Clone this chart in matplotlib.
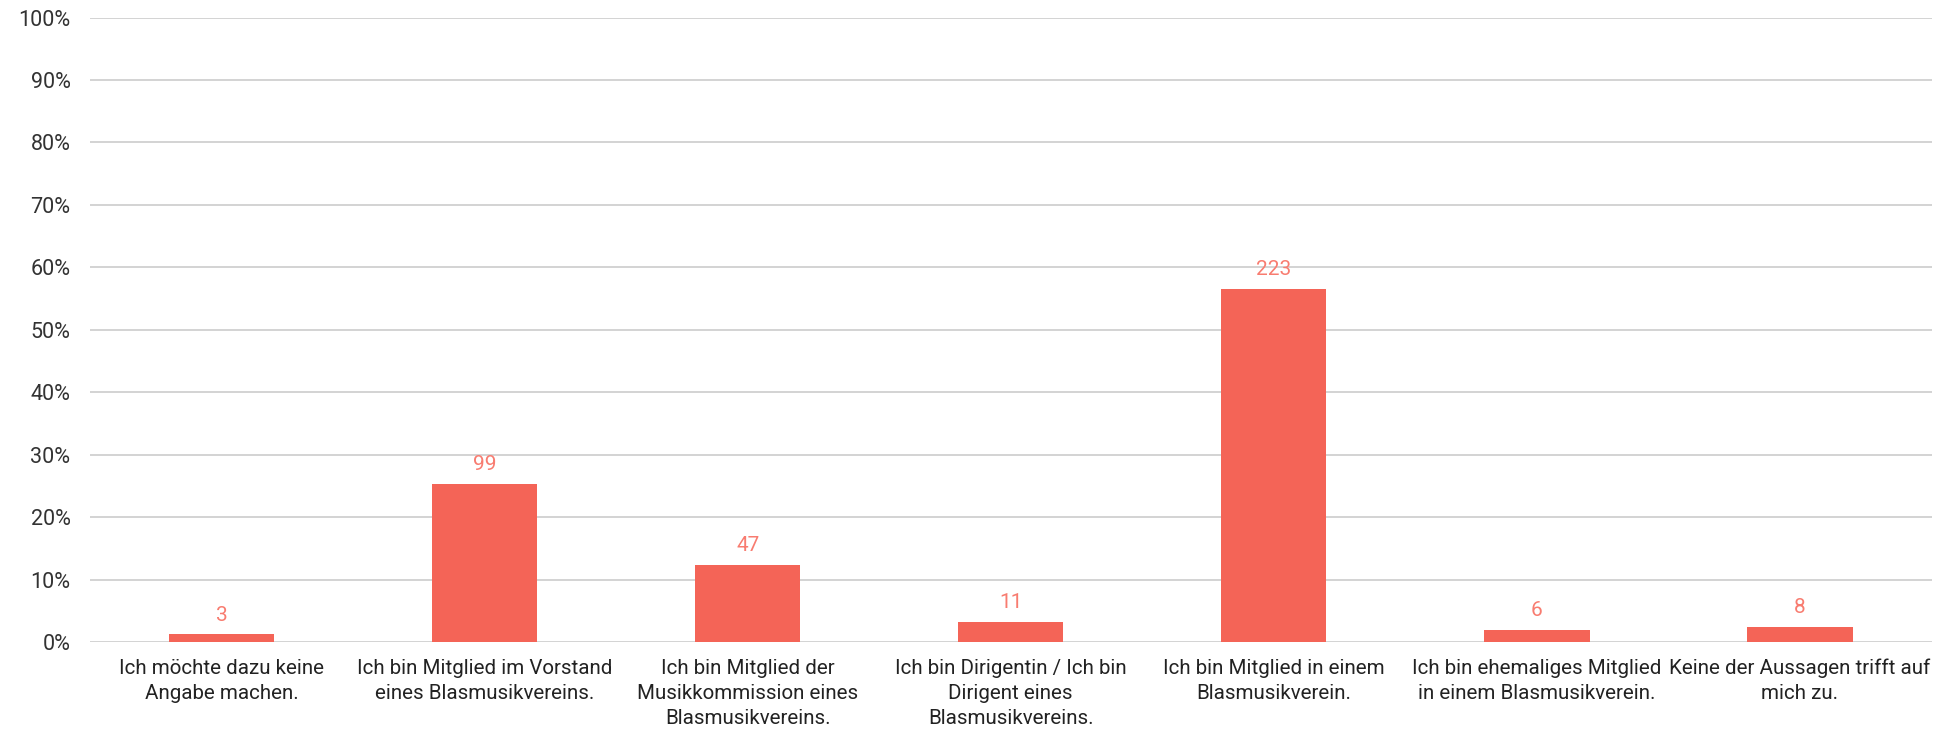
import matplotlib
matplotlib.use("Agg")
import matplotlib.pyplot as plt
from matplotlib.ticker import FixedLocator

categories = [
    "Ich möchte dazu keine\nAngabe machen.",
    "Ich bin Mitglied im Vorstand\neines Blasmusikvereins.",
    "Ich bin Mitglied der\nMusikkommission eines\nBlasmusikvereins.",
    "Ich bin Dirigentin / Ich bin\nDirigent eines\nBlasmusikvereins.",
    "Ich bin Mitglied in einem\nBlasmusikverein.",
    "Ich bin ehemaliges Mitglied\nin einem Blasmusikverein.",
    "Keine der Aussagen trifft auf\nmich zu.",
]
percent = [1.2, 25.3, 12.3, 3.2, 56.5, 1.9, 2.4]
counts = [3, 99, 47, 11, 223, 6, 8]
yticks = [0, 10, 20, 30, 40, 50, 60, 70, 80, 90, 100]
ytick_labels = [f"{v}%" for v in yticks]

plt.rcParams['font.family'] = ['Roboto', 'DejaVu Sans']

fig = plt.figure(figsize=(19.55, 7.32), dpi=100)
ax = fig.add_axes([0.046, 0.123, 0.942, 0.853])

bar_color = "#F46457"
label_color = "#F87C70"
x = list(range(len(categories)))
ax.bar(x, percent, width=0.4, color=bar_color, zorder=3)

for xi, p, c in zip(x, percent, counts):
    ax.annotate(str(c), (xi, p), xytext=(0, 7), textcoords="offset points",
                ha="center", va="bottom", color=label_color, fontsize=15)

ax.set_xlim(-0.5, len(categories) - 0.5)
ax.set_ylim(0, 100)
ax.yaxis.set_major_locator(FixedLocator(yticks))
ax.set_yticklabels(ytick_labels, fontsize=15.5, color="#333333")
ax.set_xticks(x)
ax.set_xticklabels(categories, fontsize=14.8, color="#222222", linespacing=1.42)
ax.tick_params(axis="y", length=0, pad=14)
ax.tick_params(axis="x", length=0, pad=12)
ax.grid(axis="y", color="#CCCCCC", linewidth=1.2, zorder=0)
for s in ax.spines.values():
    s.set_visible(False)

fig.savefig("out.png", dpi=100, facecolor="white")
